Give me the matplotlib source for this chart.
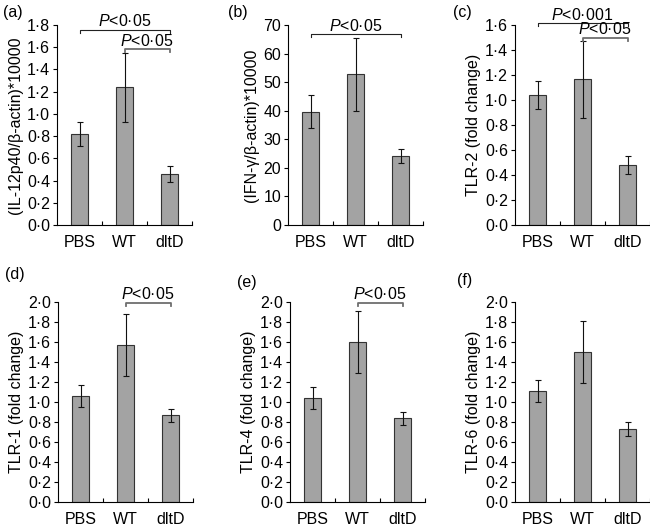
import matplotlib
matplotlib.use('Agg')
from matplotlib import pyplot as plt
from matplotlib.ticker import FuncFormatter

plt.rcParams['font.family'] = ['Liberation Sans', 'DejaVu Sans']
plt.rcParams['mathtext.fontset'] = 'custom'
plt.rcParams['mathtext.rm'] = 'Liberation Sans'
plt.rcParams['mathtext.it'] = 'Liberation Sans:italic'

groups = ['PBS', 'WT', 'dltD']

il12_mean = [0.82, 1.24, 0.46]
il12_err = [0.11, 0.31, 0.07]
ifng_mean = [39.7, 52.7, 24.2]
ifng_err = [5.7, 12.7, 2.5]
tlr2_mean = [1.04, 1.165, 0.48]
tlr2_err = [0.11, 0.31, 0.07]
tlr1_mean = [1.06, 1.57, 0.87]
tlr1_err = [0.11, 0.31, 0.065]
tlr4_mean = [1.045, 1.60, 0.84]
tlr4_err = [0.11, 0.31, 0.065]
tlr6_mean = [1.11, 1.50, 0.735]
tlr6_err = [0.11, 0.31, 0.07]

ylabels = ['(IL-12p40/β-actin)*10000', '(IFN-γ/β-actin)*10000',
           'TLR-2 (fold change)', 'TLR-1 (fold change)',
           'TLR-4 (fold change)', 'TLR-6 (fold change)']
letters = ['(a)', '(b)', '(c)', '(d)', '(e)', '(f)']

# (start group, end group, height, text)
sig_a = [(0, 2, 1.755, 'P<0·05'), (1, 2, 1.58, 'P<0·05')]
sig_b = [(0, 2, 66.7, 'P<0·05')]
sig_c = [(0, 2, 1.613, 'P<0·001'), (1, 2, 1.50, 'P<0·05')]
sig_d = [(1, 2, 1.99, 'P<0·05')]
sig_e = [(1, 2, 1.99, 'P<0·05')]
sig_f = []

panels = [
    (il12_mean, il12_err, 1.8, 0.2, sig_a),
    (ifng_mean, ifng_err, 70, 10, sig_b),
    (tlr2_mean, tlr2_err, 1.6, 0.2, sig_c),
    (tlr1_mean, tlr1_err, 2.0, 0.2, sig_d),
    (tlr4_mean, tlr4_err, 2.0, 0.2, sig_e),
    (tlr6_mean, tlr6_err, 2.0, 0.2, sig_f),
]

W, H = 650, 530
FS = 11.5
lefts = [57, 288, 515, 58, 290, 515]
bottoms = [225, 225, 225, 502, 502, 502]
letter_pos = [(3, 13), (228, 13), (453, 13), (5, 275), (237, 282), (457, 280)]

fig = plt.figure(figsize=(6.5, 5.3), dpi=100)

for i, (mean, err, ymax, step, sigs) in enumerate(panels):
    ax = fig.add_axes([lefts[i] / W, (H - bottoms[i]) / H, 135 / W, 200 / H])
    x = list(range(len(groups)))
    ax.bar(x, mean, width=0.39, color='#a3a3a3', edgecolor='#333333', linewidth=0.8)
    ax.errorbar(x, mean, yerr=err, fmt='none', ecolor='#111111', elinewidth=0.8,
                capsize=2, capthick=0.8)
    ax.set_xlim(-0.5, 2.5)
    ax.set_ylim(0, ymax)
    nt = int(round(ymax / step))
    ax.set_yticks([k * step for k in range(nt + 1)])
    if step >= 1:
        ax.yaxis.set_major_formatter(FuncFormatter(lambda v, p: '%d' % round(v)))
    else:
        ax.yaxis.set_major_formatter(FuncFormatter(lambda v, p: ('%.1f' % v).replace('.', '·')))
    ax.set_xticks([0.5, 1.5, 2.5])
    ax.set_xticklabels([])
    ax.tick_params(axis='x', direction='in', length=3, width=0.8)
    ax.tick_params(axis='y', direction='out', length=3, width=0.8, labelsize=FS, pad=2)
    for k, g in enumerate(groups):
        ax.text(k, -ymax * 0.05, g, ha='center', va='top', fontsize=FS)
    for s in ['top', 'right']:
        ax.spines[s].set_visible(False)
    for s in ['left', 'bottom']:
        ax.spines[s].set_linewidth(0.8)
    ax.set_ylabel(ylabels[i], fontsize=FS, labelpad=3)
    for (a, b, y, txt) in sigs:
        d = ymax * 0.015
        if a == 0:
            col, lw = '#222222', 0.8
        else:
            col, lw = '#6e6e6e', 1.3
        ax.plot([a, a, b, b], [y - d, y, y, y - d], color=col, lw=lw, clip_on=False)
        ax.text((a + b) / 2, y + ymax * 0.003, '$P$' + txt[1:], ha='center', va='bottom',
                fontsize=FS, clip_on=False)
    fig.text(letter_pos[i][0] / W, 1 - letter_pos[i][1] / H, letters[i],
             ha='left', va='center', fontsize=FS)

fig.savefig('out.png', dpi=100)
